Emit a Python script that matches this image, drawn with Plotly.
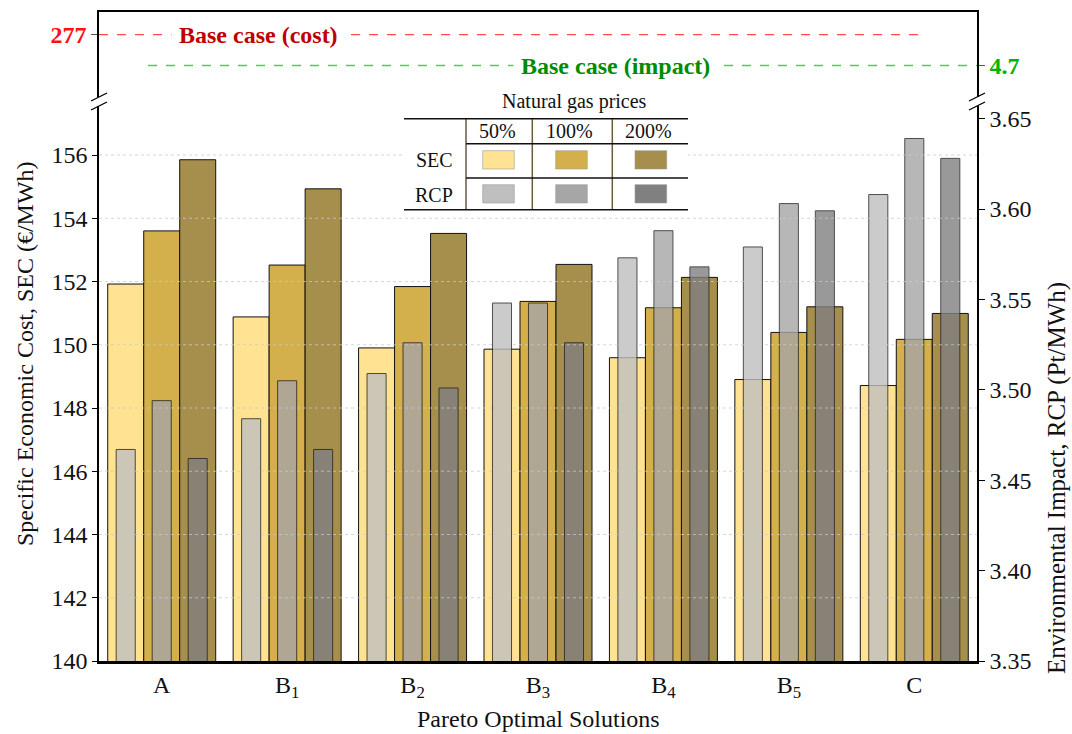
import plotly.graph_objects as go

# ---------------- data ----------------
CATEGORIES = ["A", "B<sub>1</sub>", "B<sub>2</sub>", "B<sub>3</sub>", "B<sub>4</sub>", "B<sub>5</sub>", "C"]
PRICE_LEVELS = ["50%", "100%", "200%"]

SEC_50 = [151.92, 150.88, 149.90, 149.86, 149.59, 148.90, 148.71]
SEC_100 = [153.60, 152.52, 151.84, 151.37, 151.17, 150.39, 150.17]
SEC_200 = [155.85, 154.93, 153.52, 152.54, 152.13, 151.20, 150.99]

RCP_50 = [3.467, 3.484, 3.509, 3.548, 3.573, 3.579, 3.608]
RCP_100 = [3.494, 3.505, 3.526, 3.548, 3.588, 3.603, 3.639]
RCP_200 = [3.462, 3.467, 3.501, 3.526, 3.568, 3.599, 3.628]

BASE_COST = 277
BASE_IMPACT = 4.7

SEC_TICKS = [140, 142, 144, 146, 148, 150, 152, 154, 156]

# ---------------- styles ----------------
FONT = "Liberation Serif, Times New Roman, serif"
SEC_COLORS = ["#FFE392", "#D4B04C", "#A68F4C"]
RCP_COLORS = ["#BFBFBF", "#A6A6A6", "#808080"]
SEC_W = 0.287
RCP_W = 0.152
SEC_OFFSETS = [-1.5 * SEC_W, -0.5 * SEC_W, 0.5 * SEC_W]
RCP_OFFSETS = [c * SEC_W - RCP_W / 2 for c in (-1, 0, 1)]

# pixel -> paper helpers (plot area: x 99..977, y 12..661)
L, R, T, B = 99, 977, 12, 661
def PX(x):
    return (x - L) / (R - L)
def PY(y):
    return (B - y) / (B - T)

UP_BOTTOM = 97
LOW_TOP = 106

fig = go.Figure()

sec_series = [SEC_50, SEC_100, SEC_200]
rcp_series = [RCP_50, RCP_100, RCP_200]

for i, vals in enumerate(sec_series):
    fig.add_trace(go.Bar(
        x=CATEGORIES, y=vals, xaxis="x", yaxis="y",
        width=SEC_W, offset=SEC_OFFSETS[i],
        marker=dict(color=SEC_COLORS[i], line=dict(color="#111111", width=1)),
        name="SEC " + PRICE_LEVELS[i], showlegend=False,
    ))

for i, vals in enumerate(rcp_series):
    fig.add_trace(go.Bar(
        x=CATEGORIES, y=vals, xaxis="x", yaxis="y3",
        width=RCP_W, offset=RCP_OFFSETS[i],
        marker=dict(color=RCP_COLORS[i], opacity=0.8,
                    line=dict(color="#222222", width=1)),
        name="RCP " + PRICE_LEVELS[i], showlegend=False,
    ))

# base case lines in the upper (broken) section
fig.add_trace(go.Scatter(
    x=[0, PX(926)], y=[BASE_COST, BASE_COST], xaxis="x2", yaxis="y2",
    mode="lines", line=dict(color="#FF4D4D", width=1.3, dash="dash"),
    showlegend=False, hoverinfo="skip",
))
fig.add_trace(go.Scatter(
    x=[PX(148), 1], y=[BASE_IMPACT, BASE_IMPACT], xaxis="x2", yaxis="y4",
    mode="lines", line=dict(color="#3CDC3C", width=1.5, dash="dash"),
    showlegend=False, hoverinfo="skip",
))

low_dom = [0, PY(LOW_TOP)]
up_dom = [PY(UP_BOTTOM), 1]

left_top = 140 + (B - LOW_TOP) / 31.625
right_top = 3.35 + (B - LOW_TOP) / 1808.0

tickfont = dict(family=FONT, size=24, color="#111111")

fig.update_layout(
    width=1072, height=734, autosize=False,
    margin=dict(l=L, r=1072 - R, t=T, b=734 - B),
    paper_bgcolor="white", plot_bgcolor="rgba(0,0,0,0)",
    barmode="overlay",
    font=dict(family=FONT, size=20, color="#111111"),
    xaxis=dict(
        domain=[0, 1], anchor="y", type="category",
        categoryorder="array", categoryarray=CATEGORIES,
        range=[-0.5, 6.5], showline=True, linewidth=3, linecolor="black",
        ticks="", tickfont=tickfont, showgrid=False, zeroline=False,
    ),
    yaxis=dict(
        domain=low_dom, anchor="x", range=[140, left_top],
        tickmode="array", tickvals=SEC_TICKS,
        showline=True, linewidth=1.5, linecolor="black",
        ticks="outside", ticklen=5, tickwidth=1, tickcolor="black",
        tickfont=tickfont, showgrid=False, zeroline=False,
    ),
    yaxis3=dict(
        overlaying="y", side="right", anchor="x", range=[3.35, right_top],
        tick0=3.35, dtick=0.05, tickformat=".2f",
        showline=True, linewidth=1.5, linecolor="black",
        ticks="outside", ticklen=6, tickwidth=1, tickcolor="black",
        tickfont=tickfont, showgrid=False, zeroline=False,
    ),
    xaxis2=dict(
        domain=[0, 1], anchor="y2", side="top", range=[0, 1],
        showline=True, linewidth=1.5, linecolor="black",
        ticks="", showticklabels=False, showgrid=False, zeroline=False,
    ),
    yaxis2=dict(
        domain=up_dom, anchor="x2", range=[260, 283.2],
        tickmode="array", tickvals=[BASE_COST], ticktext=["<b>%d</b>" % BASE_COST],
        tickfont=dict(family=FONT, size=24, color="#FF1010"),
        showline=True, linewidth=1.5, linecolor="black",
        ticks="outside", ticklen=6, tickcolor="#555555",
        showgrid=False, zeroline=False,
    ),
    yaxis4=dict(
        overlaying="y2", side="right", anchor="x2", range=[4.0, 5.89],
        tickmode="array", tickvals=[BASE_IMPACT], ticktext=["<b>%s</b>" % BASE_IMPACT],
        tickfont=dict(family=FONT, size=24, color="#00B400"),
        showline=True, linewidth=1.5, linecolor="black",
        ticks="outside", ticklen=6, tickcolor="#555555",
        showgrid=False, zeroline=False,
    ),
)

shapes = []
# dotted grid lines drawn over the bars
for v in SEC_TICKS[1:]:
    shapes.append(dict(type="line", xref="paper", yref="y", x0=0, x1=1, y0=v, y1=v,
                       line=dict(color="rgba(200,200,200,0.75)", width=1.2, dash="dot"),
                       layer="above"))

# axis-break slashes
for xc in (L, R):
    for yc in (UP_BOTTOM, LOW_TOP):
        shapes.append(dict(type="line", xref="paper", yref="paper",
                           x0=PX(xc - 8), y0=PY(yc + 4), x1=PX(xc + 8), y1=PY(yc - 4),
                           line=dict(color="black", width=1.3), layer="above"))

# legend table
TBL_L, TBL_R, TBL_T, TBL_B = 404, 688, 118.7, 209.7
shapes.append(dict(type="rect", xref="paper", yref="paper",
                   x0=PX(TBL_L), x1=PX(TBL_R), y0=PY(TBL_B), y1=PY(TBL_T),
                   fillcolor="white", line=dict(width=0), layer="above"))
def hline(y, x0, x1):
    shapes.append(dict(type="line", xref="paper", yref="paper",
                       x0=PX(x0), x1=PX(x1), y0=PY(y), y1=PY(y),
                       line=dict(color="#111111", width=1.5), layer="above"))
for xv in (466, 532.3, 612.3):
    shapes.append(dict(type="line", xref="paper", yref="paper",
                       x0=PX(xv), x1=PX(xv), y0=PY(TBL_T), y1=PY(TBL_B),
                       line=dict(color="#6B5A3E", width=1.5), layer="above"))
hline(TBL_T, TBL_L, TBL_R)
hline(143.7, 466, TBL_R)
hline(178, 466, TBL_R)
hline(TBL_B, TBL_L, TBL_R)

SW_X = [(482.7, 514.3), (555.7, 587.3), (635, 666.7)]
SW_Y = [(150.7, 169), (184.7, 203)]
for row, colors in enumerate([SEC_COLORS, RCP_COLORS]):
    for j, c in enumerate(colors):
        x0, x1 = SW_X[j]
        y0, y1 = SW_Y[row]
        shapes.append(dict(type="rect", xref="paper", yref="paper",
                           x0=PX(x0), x1=PX(x1), y0=PY(y1), y1=PY(y0),
                           fillcolor=c, line=dict(color="#9a9a9a", width=0.6), layer="above"))

fig.update_layout(shapes=shapes)

ann = []
def text(x, y, s, size=18, color="#111111", angle=0, bold=False, bg=None, pad=0, xanchor="center"):
    d = dict(xref="paper", yref="paper", x=PX(x), y=PY(y), text=("<b>%s</b>" % s if bold else s),
             showarrow=False, xanchor=xanchor, yanchor="middle", textangle=angle,
             font=dict(family=FONT, size=size, color=color), borderpad=pad)
    if bg:
        d["bgcolor"] = bg
    ann.append(d)

text(574, 101, "Natural gas prices", size=20)
for lab, xc in zip(PRICE_LEVELS, (497, 569, 648)):
    text(xc, 131, lab, size=20)
text(434, 160, "SEC", size=20)
text(434, 195, "RCP", size=20)

text(258.5, 34.6, "Base case (cost)", size=24, color="#C00000", bold=True, bg="white", pad=7)
text(615, 65.5, "Base case (impact)", size=24, color="#008C00", bold=True, bg="white", pad=7)

text(538, 719, "Pareto Optimal Solutions", size=24)
text(25, 354, "Specific Economic Cost, SEC (€/MWh)", size=24, angle=-90)
text(1057, 478, "Environmental Impact, RCP (Pt/MWh)", size=25, angle=-90)

fig.update_layout(annotations=ann)

fig.write_html("out.html")
